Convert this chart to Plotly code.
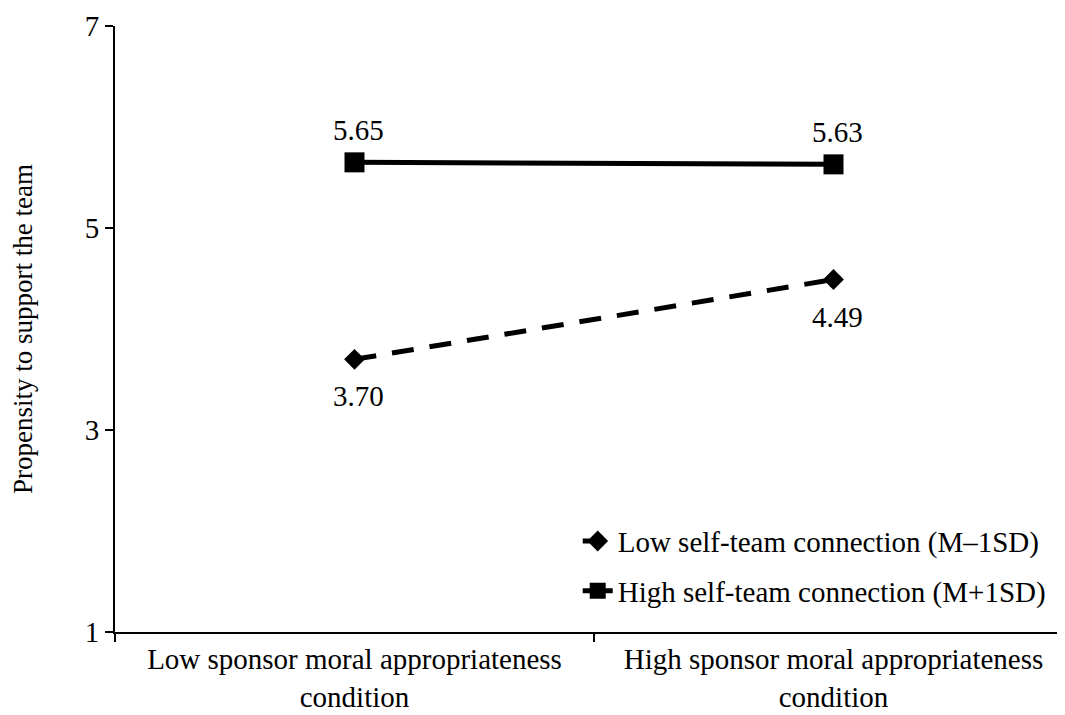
import plotly.graph_objects as go

categories = ["Low sponsor moral appropriateness<br>condition",
              "High sponsor moral appropriateness<br>condition"]
low_conn = [3.70, 4.49]
high_conn = [5.65, 5.63]
low_name = "Low self-team connection (M\u20131SD)"
high_name = "High self-team connection (M+1SD)"
y_ticks = [1, 3, 5, 7]

FONT = "Liberation Serif"
FS = 29

fig = go.Figure()
fig.add_trace(go.Scatter(
    x=categories, y=low_conn, name=low_name, mode="lines+markers",
    line=dict(color="black", width=5, dash="22px,16px"),
    marker=dict(symbol="diamond", size=16, color="black"),
    legendgroup="a",
))
fig.add_trace(go.Scatter(
    x=categories, y=high_conn, name=high_name, mode="lines+markers",
    line=dict(color="black", width=5),
    marker=dict(symbol="square", size=20, color="black"),
    legendgroup="b",
))

for cx, v in zip(categories, low_conn):
    fig.add_annotation(x=cx, y=v, text=f"{v:.2f}", showarrow=False,
                       yshift=-37, xshift=4,
                       font=dict(family=FONT, size=FS, color="black"))
for cx, v in zip(categories, high_conn):
    fig.add_annotation(x=cx, y=v, text=f"{v:.2f}", showarrow=False,
                       yshift=32, xshift=4,
                       font=dict(family=FONT, size=FS, color="black"))

fig.update_layout(
    width=1065, height=715,
    margin=dict(l=107, r=0, t=18, b=91),
    paper_bgcolor="white", plot_bgcolor="white",
    font=dict(family=FONT, size=FS, color="black"),
    showlegend=True,
    legend=dict(x=0.483, xanchor="left", y=0.192, yanchor="top",
                bgcolor="rgba(0,0,0,0)", font=dict(family=FONT, size=FS),
                tracegroupgap=9),
    xaxis=dict(
        type="category", range=[-0.5, 1.5], showline=True, linecolor="black",
        linewidth=2, ticks="outside", tickson="boundaries", ticklen=8,
        tickwidth=2, tickcolor="black", showgrid=False, zeroline=False,
        tickfont=dict(family=FONT, size=FS), automargin=False,
    ),
    yaxis=dict(
        range=[1, 7], tickvals=y_ticks, showline=True, linecolor="black",
        linewidth=2, ticks="outside", ticklen=8, tickwidth=2, tickcolor="black",
        showgrid=False, zeroline=False, tickfont=dict(family=FONT, size=FS),
        automargin=False, ticklabeloverflow="allow",
        title=dict(text="Propensity to support the team",
                   font=dict(family=FONT, size=27), standoff=45),
    ),
)

fig.write_html("out.html")
